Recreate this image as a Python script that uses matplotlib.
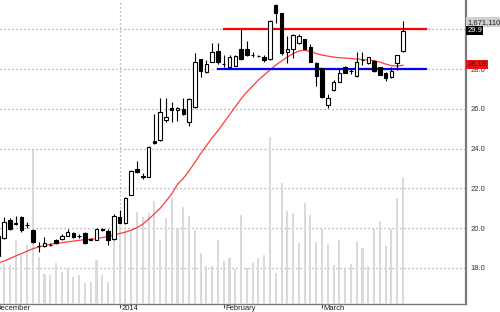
import matplotlib
matplotlib.use("Agg")
import matplotlib.pyplot as plt
import matplotlib.transforms as mtransforms

plt.rcParams['font.family'] = ['Liberation Sans', 'DejaVu Sans']

# ---- data (index -1 .. 69) ----
idx = list(range(-1, 70))
opens = [18.6, 19.5, 20.4, 20.2, 20.58, 20.14, 19.92, 19.1, 19.1, 19.15, 19.41,
         19.44, 19.62, 19.77, 19.6, 19.77, 19.43, 19.42, 19.95, 19.87, 19.45,
         20.55, 20.25, 21.67, 23.0, 22.58, 22.58, 24.4, 24.43, 25.42, 26.02,
         25.96, 26.0, 25.36, 26.09, 28.49, 27.83, 28.37, 28.93, 28.24, 28.12,
         28.17, 29.0, 29.0, 28.71, 28.66, 28.62, 28.49, 31.22, 30.8, 28.87,
         28.99, 29.29, 29.49, 29.12, 28.32, 28.03, 26.19, 26.94, 27.36, 28.12,
         27.91, 27.65, 28.44, 28.29, 28.4, 28.08, 27.82, 27.58, 28.32, 28.9]
highs = [19.9, 20.58, 20.5, 20.6, 20.62, 20.33, 19.95, 19.32, 19.54, 19.25, 19.45,
         19.7, 19.94, 19.8, 19.7, 19.8, 19.5, 20.0, 20.0, 19.95, 20.71,
         20.93, 21.55, 22.95, 23.36, 22.75, 24.15, 25.76, 26.53, 26.53, 26.36,
         26.1, 26.53, 26.55, 28.8, 28.52, 28.45, 29.32, 29.32, 28.7, 28.72,
         28.7, 30.0, 29.43, 28.85, 28.72, 28.72, 30.45, 31.25, 30.82, 29.64,
         29.75, 29.75, 29.52, 29.25, 28.35, 28.05, 26.75, 27.45, 28.05, 28.15,
         28.05, 28.87, 28.87, 28.62, 28.45, 28.1, 27.85, 28.12, 28.72, 30.43]
lows = [18.55, 19.45, 19.9, 20.15, 19.8, 20.0, 19.28, 18.82, 19.05, 19.1, 19.22,
        19.42, 19.6, 19.5, 19.5, 19.2, 19.4, 19.4, 19.85, 19.16, 19.42,
        20.25, 20.2, 21.65, 22.75, 22.45, 22.55, 24.25, 24.4, 25.35, 25.36,
        25.4, 25.7, 25.14, 26.05, 27.58, 27.8, 28.35, 28.23, 28.12, 28.1,
        28.15, 28.45, 28.65, 28.6, 28.58, 28.35, 28.45, 30.3, 28.7, 28.3,
        28.54, 29.25, 28.95, 28.33, 27.15, 26.55, 26.03, 26.9, 27.33, 27.8,
        27.75, 27.6, 28.2, 28.27, 27.85, 27.68, 27.42, 27.55, 27.95, 28.88]
closes = [19.6, 20.33, 19.95, 20.28, 19.9, 20.18, 19.32, 19.12, 19.27, 19.18, 19.25,
          19.6, 19.82, 19.55, 19.62, 19.27, 19.45, 19.94, 19.93, 19.42, 20.6,
          20.28, 21.5, 22.89, 22.8, 22.6, 24.1, 24.3, 25.86, 25.58, 25.93,
          26.02, 25.74, 26.49, 28.33, 27.9, 28.25, 28.87, 28.37, 28.26, 28.59,
          28.65, 28.49, 28.7, 28.69, 28.64, 28.45, 30.43, 30.8, 28.79, 28.99,
          29.71, 29.66, 28.99, 28.37, 27.65, 26.58, 26.53, 27.36, 27.82, 27.82,
          27.89, 28.34, 28.46, 28.59, 27.9, 27.7, 27.53, 27.92, 28.7, 29.92]
volumes = [900000, 539000, 513000, 842000, 645000, 776000, 2026000, 618000, 395000,
           382000, 539000, 421000, 474000, 355000, 382000, 276000, 289000, 579000,
           382000, 289000, 974000, 1039000, 1013000, 974000, 1211000, 1145000,
           1197000, 1355000, 842000, 1132000, 1395000, 1000000, 1276000, 1158000,
           974000, 671000, 500000, 500000, 842000, 566000, 605000, 461000, 1171000,
           474000, 539000, 605000, 645000, 2197000, 408000, 1592000, 1224000,
           1197000, 803000, 1329000, 1171000, 816000, 987000, 789000, 513000,
           842000, 487000, 526000, 829000, 737000, 500000, 987000, 1092000,
           763000, 987000, 1395000, 1671110]
ma = [18.25, 18.35, 18.47, 18.6, 18.72, 18.85, 18.97, 19.05, 19.13, 19.19, 19.23,
      19.27, 19.31, 19.35, 19.39, 19.42, 19.45, 19.48, 19.53, 19.58, 19.66,
      19.73, 19.8, 19.9, 20.03, 20.2, 20.45, 20.72, 21.0, 21.35, 21.72,
      22.2, 22.5, 22.88, 23.3, 23.75, 24.15, 24.55, 24.9, 25.3, 25.7,
      26.1, 26.5, 26.85, 27.15, 27.45, 27.7, 27.95, 28.2, 28.4, 28.6,
      28.78, 28.9, 28.95, 28.88, 28.78, 28.7, 28.65, 28.6, 28.57, 28.55,
      28.53, 28.5, 28.48, 28.45, 28.42, 28.35, 28.25, 28.17, 28.15, 28.19]
resistance = 30.0
support = 28.0
level_start_r, level_start_s, level_end = 38.1, 37.0, 73.0
price_ticks = [18.0, 20.0, 22.0, 24.0, 26.0, 28.0, 30.0]
price_tick_labels = ['18.0', '20.0', '22.0', '24.0', '26.0', '28.0', '']
date_ticks = [-1.7, 20, 38, 55]
date_labels = ['December', '2014', 'February', 'March']
year_line = 20
last_close_label = '29.9'
ma_label = '28.19'
vol_label = '1,671,110'

# ---- figure ----
W, H = 500, 312
fig = plt.figure(figsize=(W / 100, H / 100), dpi=100)
rect = [0, 8 / H, 466 / W, 304 / H]
ax = fig.add_axes(rect)
axv = fig.add_axes(rect, sharex=ax)
axc = fig.add_axes(rect, sharex=ax, sharey=ax)
ax.set_zorder(1); axv.set_zorder(2); axc.set_zorder(3)
for a in (axv, axc):
    a.patch.set_visible(False)
    a.axis('off')

ax.set_xlim(-0.69, 79.9)
ax.set_ylim(16.19, 31.47)
axv.set_ylim(0, 4.0e6)

grid_kw = dict(color='#9a9a9a', lw=0.9, linestyle=(0, (1, 2.2)))
for p in price_ticks:
    ax.axhline(p, **grid_kw)
ax.axvline(year_line, **grid_kw)

# volume
axv.bar(idx, volumes, width=0.36, color='#dadada', edgecolor='none')

# MA
axc.plot(idx, ma, color='#ff3b3b', lw=0.9, zorder=2)

# support / resistance
axc.plot([level_start_r, level_end], [resistance, resistance], color='#ff0000', lw=1.6, zorder=2)
axc.plot([level_start_s, level_end], [support, support], color='#0000ff', lw=1.6, zorder=2)

# candles
axc.vlines(idx, lows, highs, color='black', lw=0.8, zorder=4)
for i, o, c in zip(idx, opens, closes):
    up = c >= o
    bottom = min(o, c)
    h = max(abs(c - o), 0.02)
    axc.bar(i, h, bottom=bottom, width=0.6, color='white' if up else 'black',
            edgecolor='black', linewidth=0.8, zorder=5)

# axes styling
for s in ('top', 'left'):
    ax.spines[s].set_visible(False)
ax.spines['right'].set_color('#7a7a7a')
ax.spines['right'].set_linewidth(1.6)
ax.spines['bottom'].set_color('#7a7a7a')
ax.spines['bottom'].set_linewidth(1.0)
ax.yaxis.tick_right()
ax.set_yticks(price_ticks)
ax.set_yticklabels(price_tick_labels)
ax.tick_params(axis='y', length=0, pad=3, labelsize=5.5, labelcolor='#333333')

# date ticks and labels (label starts just right of tick mark)
ax.set_xticks([t for t in date_ticks if t >= -0.69])
ax.set_xticklabels([])
ax.tick_params(axis='x', length=3, width=0.8, color='#444444', direction='out')
for t, lab in zip(date_ticks, date_labels):
    ax.annotate(lab, xy=(t, 0), xycoords=('data', 'axes fraction'),
                xytext=(1.2, -0.6), textcoords='offset points',
                ha='left', va='top', fontsize=5.5, color='#222222',
                annotation_clip=False)

# right-side boxes
tr = mtransforms.blended_transform_factory(ax.transAxes, ax.transData)
ax.text(1.003, 30.36, vol_label, transform=tr, fontsize=5.5, color='#222222',
        va='center', ha='left',
        bbox=dict(boxstyle='square,pad=0.15', fc='#d0d0d0', ec='none'), zorder=10, clip_on=False)
ax.text(1.003, closes[-1], last_close_label, transform=tr, fontsize=5.5, color='white',
        va='center', ha='left',
        bbox=dict(boxstyle='square,pad=0.15', fc='black', ec='none'), zorder=10, clip_on=False)
ax.text(1.003, ma[-1] + 0.05, ma_label, transform=tr, fontsize=5.5, color='#222222',
        va='center', ha='left',
        bbox=dict(boxstyle='square,pad=0.15', fc='#ee1111', ec='none'), zorder=10, clip_on=False)

fig.savefig('out.png', dpi=100)
